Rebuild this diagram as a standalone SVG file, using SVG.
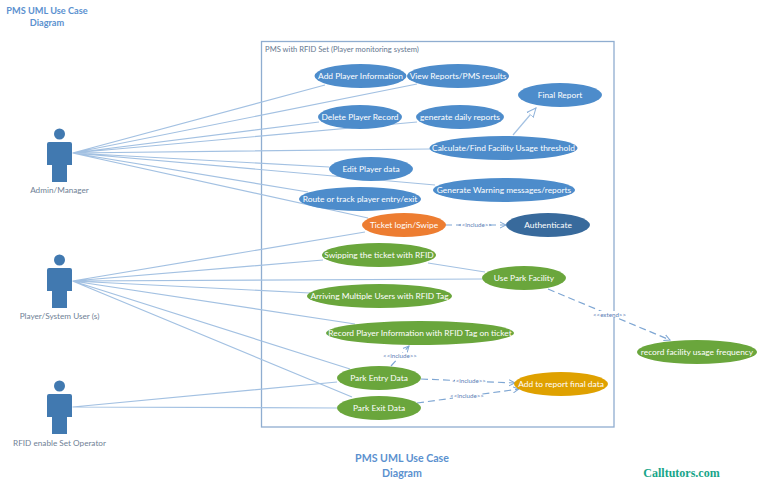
<svg xmlns="http://www.w3.org/2000/svg" width="760" height="486" viewBox="0 0 760 486">
<style>
text{font-family:Lato,"Liberation Sans",sans-serif;text-anchor:middle}
.uc text{fill:#fff;font-size:8.400px;dominant-baseline:central}
.blue ellipse{fill:#4d8ccb}
.green ellipse{fill:#6aa63c}
.orange ellipse{fill:#ed7d31}
.navy ellipse{fill:#386a9c}
.gold ellipse{fill:#dfa100}
.lnk{stroke:#a3c1e2;stroke-width:1.2;fill:none}
.dash{stroke:#7ea6d3;stroke-width:1.2;fill:none;stroke-dasharray:7 4}
.st{font-size:6.200px;fill:#5a7cb5}
.actor{fill:#4179b0}
.an{font-size:8.200px;fill:#6f7f95}
.title{fill:#5b91cf;font-weight:700}
</style>
<defs>
<marker id="open" markerWidth="12" markerHeight="12" refX="9" refY="5" orient="auto" markerUnits="userSpaceOnUse"><path d="M0 1L9 5L0 9Z" fill="#fff" stroke="#8fb2da" stroke-width="1"/></marker>
<marker id="dar" markerWidth="10" markerHeight="10" refX="6" refY="4" orient="auto" markerUnits="userSpaceOnUse"><path d="M0 1L6 4L0 7" fill="none" stroke="#7ea6d3" stroke-width="1"/></marker>
<g id="fig"><circle cx="0" cy="-8" r="5.500"/><path d="M-12.500 2a2 2 0 0 1 2-2H10.500a2 2 0 0 1 2 2V23H7.500V40H-7.500V23H-12.500Z"/></g>
</defs>
<rect id="boundary" x="261.500" y="41.500" width="352.500" height="385.500" fill="#fff" stroke="#8fadd0" stroke-width="1.300"/>
<text x="342" y="51.500" style="font-size:7.600px;fill:#66788f">PMS with RFID Set (Player monitoring system)</text>
<g id="connectors">
<path class="lnk" d="M72.500 153L325 85M72.500 153L417 84M72.500 153L319 122M72.500 153L417 122M72.500 153L430 149M72.500 153L329 167M72.500 153L435 185M72.500 153L308 192M72.500 153L368 218"/>
<path class="lnk" d="M72.500 281L365 232M72.500 281L323 260M72.500 281L482 279M72.500 281L310 293M72.500 281L355 324M72.500 281L350 369M72.500 281L352 397"/>
<path class="lnk" d="M72.500 407L337 382M72.500 407L337 408M428 263L485 272"/>
<path class="lnk" d="M513 135L536 108" marker-end="url(#open)"/>
<path class="dash" d="M445 225L506 225" marker-end="url(#dar)"/>
<path class="dash" d="M548 289L670 340" marker-end="url(#dar)"/>
<path class="dash" d="M391 366L409 346" marker-end="url(#dar)"/>
<path class="dash" d="M421 379L515 383" marker-end="url(#dar)"/>
<path class="dash" d="M417 403L519 389" marker-end="url(#dar)"/>
<g>
<rect x="461" y="222" width="28" height="6" fill="#fff"/><text class="st" x="475" y="227">&lt;&lt;include&gt;&gt;</text>
<rect x="596" y="311" width="27" height="6" fill="#fff"/><text class="st" x="609.500" y="316.500">&lt;&lt;extend&gt;&gt;</text>
<rect x="386" y="353" width="28" height="6" fill="#fff"/><text class="st" x="400" y="358">&lt;&lt;include&gt;&gt;</text>
<rect x="455" y="378" width="28" height="6" fill="#fff"/><text class="st" x="469" y="383">&lt;&lt;include&gt;&gt;</text>
<rect x="453" y="393" width="28" height="6" fill="#fff"/><text class="st" x="467" y="398">&lt;&lt;include&gt;&gt;</text>
</g>
</g>
<g id="admin"><use href="#fig" x="59.500" y="142" class="actor"/><text class="an" x="59.500" y="193">Admin/Manager</text></g>
<g id="player"><use href="#fig" x="59.500" y="268" class="actor"/><text class="an" x="59.500" y="319">Player/System User (s)</text></g>
<g id="operator"><use href="#fig" x="59.500" y="394" class="actor"/><text class="an" x="59.500" y="445.500">RFID enable Set Operator</text></g>
<g id="uc1" class="uc blue"><ellipse cx="360.500" cy="76" rx="46" ry="12"/><text x="360.500" y="76">Add Player Information</text></g>
<g id="uc2" class="uc blue"><ellipse cx="458" cy="76" rx="51" ry="12"/><text x="458" y="76">View Reports/PMS results</text></g>
<g id="uc3" class="uc blue"><ellipse cx="360" cy="117" rx="42" ry="12"/><text x="360" y="117">Delete Player Record</text></g>
<g id="uc4" class="uc blue"><ellipse cx="460" cy="117" rx="44" ry="12"/><text x="460" y="117">generate daily reports</text></g>
<g id="uc5" class="uc blue"><ellipse cx="560" cy="95" rx="42" ry="12"/><text x="560" y="95">Final Report</text></g>
<g id="uc6" class="uc blue"><ellipse cx="503.500" cy="148" rx="74" ry="12"/><text x="503.500" y="148">Calculate/Find Facility Usage threshold</text></g>
<g id="uc7" class="uc blue"><ellipse cx="371" cy="169" rx="42" ry="12"/><text x="371" y="169">Edit Player data</text></g>
<g id="uc8" class="uc blue"><ellipse cx="504" cy="190" rx="71" ry="12"/><text x="504" y="190">Generate Warning messages/reports</text></g>
<g id="uc9" class="uc blue"><ellipse cx="360" cy="199" rx="61" ry="12"/><text x="360" y="199">Route or track player entry/exit</text></g>
<g id="uc10" class="uc orange"><ellipse cx="404" cy="225" rx="42" ry="12"/><text x="404" y="225">Ticket login/Swipe</text></g>
<g id="uc11" class="uc navy"><ellipse cx="548" cy="225" rx="42" ry="12"/><text x="548" y="225">Authenticate</text></g>
<g id="uc12" class="uc green"><ellipse cx="379" cy="255" rx="57" ry="12"/><text x="379" y="255">Swipping the ticket with RFID</text></g>
<g id="uc13" class="uc green"><ellipse cx="524" cy="278" rx="42" ry="12"/><text x="524" y="278">Use Park Facility</text></g>
<g id="uc14" class="uc green"><ellipse cx="379.500" cy="296" rx="72.500" ry="12"/><text x="379.500" y="296">Arriving Multiple Users with RFID Tag</text></g>
<g id="uc15" class="uc green"><ellipse cx="420" cy="333" rx="94" ry="12"/><text x="420" y="333">Record Player Information with RFID Tag on ticket</text></g>
<g id="uc16" class="uc green"><ellipse cx="379" cy="378" rx="42" ry="12"/><text x="379" y="378">Park Entry Data</text></g>
<g id="uc17" class="uc gold"><ellipse cx="561" cy="384" rx="47" ry="12"/><text x="561" y="384">Add to report final data</text></g>
<g id="uc18" class="uc green"><ellipse cx="379" cy="408" rx="42" ry="12"/><text x="379" y="408">Park Exit Data</text></g>
<g id="uc19" class="uc green"><ellipse cx="697" cy="352" rx="60" ry="12"/><text x="697" y="352">record facility usage frequency</text></g>
<g id="titles">
<text class="title" x="47" y="13.500" style="font-size:9.200px">PMS UML Use Case</text>
<text class="title" x="47" y="26" style="font-size:9.200px">Diagram</text>
<text class="title" x="402" y="462" style="font-size:10.600px">PMS UML Use Case</text>
<text class="title" x="402" y="477" style="font-size:10.600px">Diagram</text>
<text x="681.500" y="477" style="font-family:'Liberation Serif',serif;font-weight:700;font-size:12px;fill:#17a589">Calltutors.com</text>
</g>
</svg>
